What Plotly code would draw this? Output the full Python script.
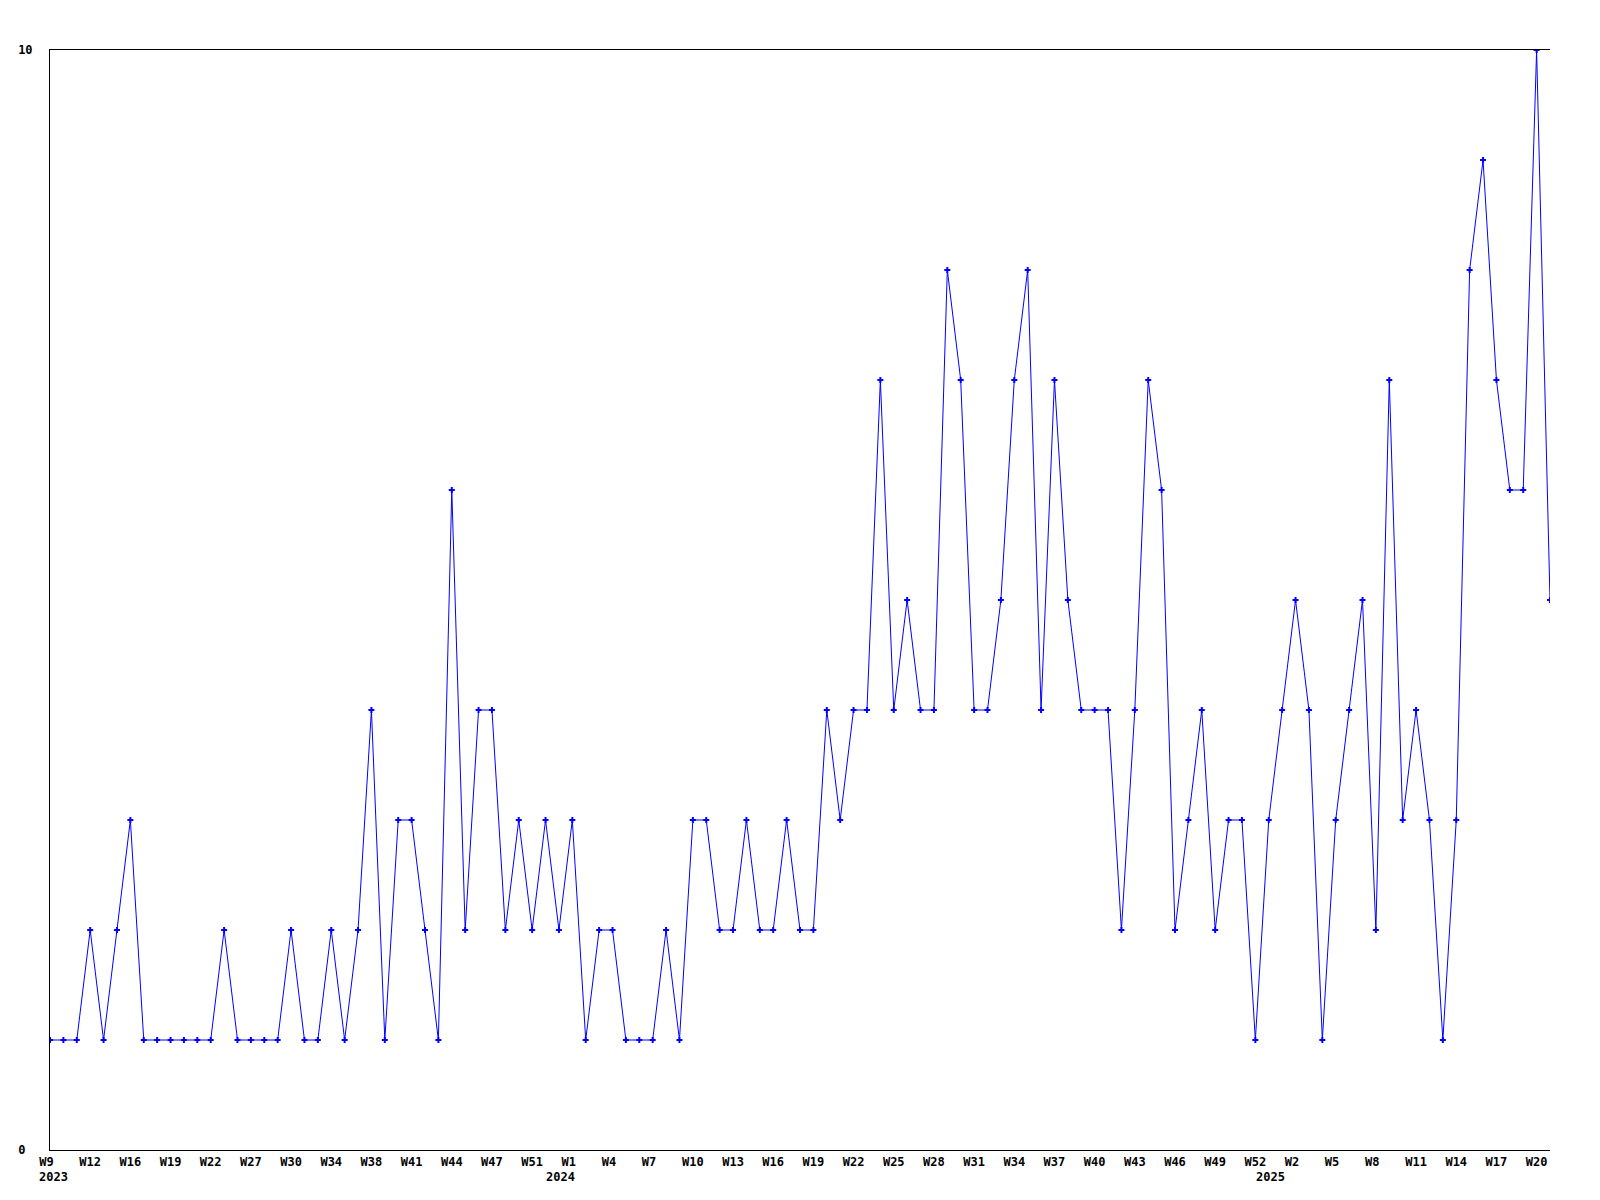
import plotly.graph_objects as go

# Weekly values (W9 2023 .. W21 2025)
values = [
    1, 1, 1, 2, 1, 2, 3, 1, 1, 1, 1, 1, 1, 2, 1, 1, 1, 1, 2, 1,
    1, 2, 1, 2, 4, 1, 3, 3, 2, 1, 6, 2, 4, 4, 2, 3, 2, 3, 2, 3,
    1, 2, 2, 1, 1, 1, 2, 1, 3, 3, 2, 2, 3, 2, 2, 3, 2, 2, 4, 3,
    4, 4, 7, 4, 5, 4, 4, 8, 7, 4, 4, 5, 7, 8, 4, 7, 5, 4, 4, 4,
    2, 4, 7, 6, 2, 3, 4, 2, 3, 3, 1, 3, 4, 5, 4, 1, 3, 4, 5, 2,
    7, 3, 4, 3, 1, 3, 8, 9, 7, 6, 6, 10, 5,
]

# Tick labels (every third point)
week_labels = [
    "W9", "W12", "W16", "W19", "W22", "W27", "W30", "W34", "W38", "W41", "W44", "W47", "W51",
    "W1", "W4", "W7", "W10", "W13", "W16", "W19", "W22", "W25", "W28", "W31", "W34", "W37",
    "W40", "W43", "W46", "W49", "W52",
    "W2", "W5", "W8", "W11", "W14", "W17", "W20",
]
tick_step = 3

# Year labels and their positions along the point index axis
year_labels = ["2023", "2024", "2025"]
year_positions = [0.25, 38.1, 91.1]

y_ticks = [0, 10]
y_tick_text = ["0\u00a0", "10"]

FONT = dict(family="DejaVu Sans Mono", size=12, color="black", weight="bold")

x_idx = list(range(len(values)))
tick_vals = list(range(0, len(week_labels) * tick_step, tick_step))
tick_text = [t + "\u00a0" if len(t) == 2 else t for t in week_labels]

fig = go.Figure()
fig.add_trace(go.Scatter(
    x=x_idx, y=values,
    mode="lines+markers",
    line=dict(color="#0000ff", width=1),
    marker=dict(symbol="cross", size=5, color="#0000ff", line=dict(width=0)),
    hoverinfo="skip",
    showlegend=False,
))

for label, pos in zip(year_labels, year_positions):
    fig.add_annotation(
        x=pos, y=0, xref="x", yref="y",
        text=label, showarrow=False,
        xanchor="center", yanchor="middle",
        yshift=-27, font=FONT,
    )

fig.update_layout(
    width=1600, height=1200,
    margin=dict(l=50, r=50, t=50, b=50),
    plot_bgcolor="white", paper_bgcolor="white",
    font=FONT,
)
fig.update_xaxes(
    range=[0, len(values) - 1],
    tickmode="array", tickvals=tick_vals, ticktext=tick_text,
    showgrid=False, zeroline=False,
    showline=True, linecolor="black", linewidth=1, mirror=True,
    ticks="", ticklabelstandoff=1,
    tickfont=FONT,
)
fig.update_yaxes(
    range=[0, 10],
    tickmode="array", tickvals=y_ticks, ticktext=y_tick_text,
    showgrid=False, zeroline=False,
    showline=True, linecolor="black", linewidth=1,
    ticks="", ticklabelstandoff=14,
    tickfont=FONT,
)

fig.write_html(
    "out.html",
    config={"displayModeBar": False},
    post_script="document.body.style.margin='0';document.body.style.overflow='hidden';",
)
